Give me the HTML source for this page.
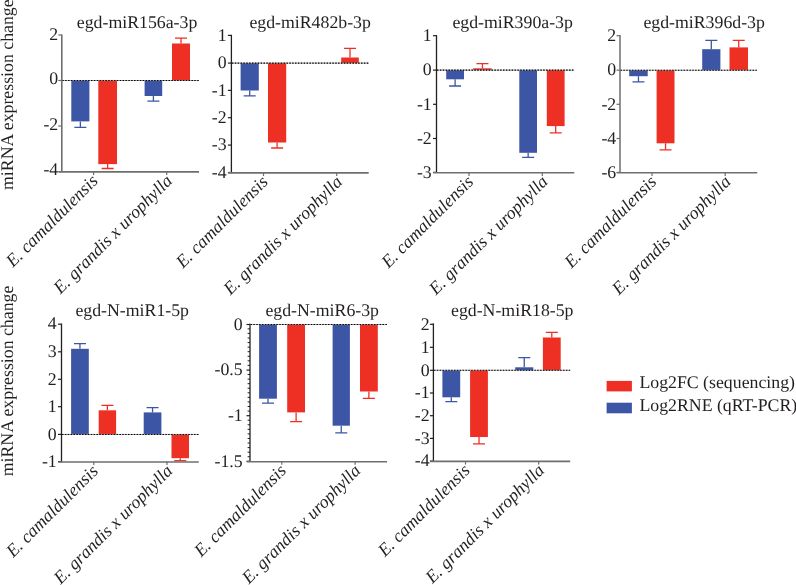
<!DOCTYPE html>
<html><head><meta charset="utf-8"><style>
html,body{margin:0;padding:0;background:#fff;}
svg{display:block;}
text{font-family:"Liberation Serif",serif;fill:#231f20;text-rendering:geometricPrecision;}
svg{will-change:transform;}
.it{font-style:italic;stroke:none;}
</style></head><body>
<svg width="796" height="585" viewBox="0 0 796 585">

<rect x="71.3" y="80.5" width="18.1" height="40.9" fill="#3d55a5"/>
<path d="M80.35 121.4V127.4M74.35 127.4H86.35" stroke="#3d55a5" stroke-width="1.3" fill="none"/>
<rect x="98.3" y="80.5" width="18.7" height="83.6" fill="#ee2f24"/>
<path d="M107.65 164.1V168.5M101.65 168.5H113.65" stroke="#ee2f24" stroke-width="1.3" fill="none"/>
<rect x="144.6" y="80.5" width="17.6" height="15.5" fill="#3d55a5"/>
<path d="M153.4 96V101.2M147.4 101.2H159.4" stroke="#3d55a5" stroke-width="1.3" fill="none"/>
<rect x="172" y="43.5" width="18" height="37" fill="#ee2f24"/>
<path d="M181 43.5V38.2M175 38.2H187" stroke="#ee2f24" stroke-width="1.3" fill="none"/>
<line x1="61.8" y1="80.5" x2="199" y2="80.5" stroke="#9a9a9a" stroke-width="0.8"/>
<line x1="62.3" y1="80.5" x2="199" y2="80.5" stroke="#000" stroke-width="1.05" stroke-dasharray="1.5 1.37"/>
<line x1="61.8" y1="34.4" x2="61.8" y2="172.1" stroke="#6d6e70" stroke-width="1.6"/>
<line x1="58.3" y1="35" x2="61.8" y2="35" stroke="#6d6e70" stroke-width="1.2"/>
<text x="58.2" y="40.2" font-size="17.8" text-anchor="end">2</text>
<line x1="58.3" y1="80.5" x2="61.8" y2="80.5" stroke="#6d6e70" stroke-width="1.2"/>
<text x="58.2" y="83.7" font-size="17.8" text-anchor="end">0</text>
<line x1="58.3" y1="126" x2="61.8" y2="126" stroke="#6d6e70" stroke-width="1.2"/>
<text x="58.2" y="129.7" font-size="17.8" text-anchor="end">-2</text>
<line x1="58.3" y1="171.6" x2="61.8" y2="171.6" stroke="#6d6e70" stroke-width="1.2"/>
<text x="58.2" y="174.6" font-size="17.8" text-anchor="end">-4</text>
<line x1="58.5" y1="171.9" x2="199" y2="171.9" stroke="#6d6e70" stroke-width="1.6"/>
<line x1="93.6" y1="171.5" x2="93.6" y2="175" stroke="#6d6e70" stroke-width="1.2"/>
<line x1="166.7" y1="171.5" x2="166.7" y2="175" stroke="#6d6e70" stroke-width="1.2"/>
<text class="it" font-size="17.8" text-anchor="end" transform="translate(98.9 181.9) rotate(-45)">E. camaldulensis</text>
<text class="it" font-size="17.8" text-anchor="end" transform="translate(173.2 181.9) rotate(-45)">E. grandis x urophylla</text>
<text x="76.8" y="27.8" font-size="17.8">egd-miR156a-3p</text>
<rect x="240.6" y="63.1" width="18.2" height="27.4" fill="#3d55a5"/>
<path d="M249.7 90.5V95.8M243.7 95.8H255.7" stroke="#3d55a5" stroke-width="1.3" fill="none"/>
<rect x="268" y="63.1" width="18.2" height="79.4" fill="#ee2f24"/>
<path d="M277.1 142.5V148M271.1 148H283.1" stroke="#ee2f24" stroke-width="1.3" fill="none"/>
<rect x="341.2" y="57.5" width="17.6" height="5.6" fill="#ee2f24"/>
<path d="M350 57.5V48.4M344 48.4H356" stroke="#ee2f24" stroke-width="1.3" fill="none"/>
<line x1="231.4" y1="63.1" x2="368.7" y2="63.1" stroke="#9a9a9a" stroke-width="0.8"/>
<line x1="231.9" y1="63.1" x2="368.7" y2="63.1" stroke="#000" stroke-width="1.05" stroke-dasharray="1.5 1.37"/>
<line x1="231.4" y1="34.8" x2="231.4" y2="173.1" stroke="#231f20" stroke-width="1.3"/>
<line x1="227.9" y1="35.4" x2="231.4" y2="35.4" stroke="#231f20" stroke-width="1.2"/>
<text x="226.6" y="40.6" font-size="17.8" text-anchor="end">1</text>
<line x1="227.9" y1="63.1" x2="231.4" y2="63.1" stroke="#231f20" stroke-width="1.2"/>
<text x="226.6" y="68.3" font-size="17.8" text-anchor="end">0</text>
<line x1="227.9" y1="90.4" x2="231.4" y2="90.4" stroke="#231f20" stroke-width="1.2"/>
<text x="226.6" y="95.6" font-size="17.8" text-anchor="end">-1</text>
<line x1="227.9" y1="117.7" x2="231.4" y2="117.7" stroke="#231f20" stroke-width="1.2"/>
<text x="226.6" y="122.9" font-size="17.8" text-anchor="end">-2</text>
<line x1="227.9" y1="145.1" x2="231.4" y2="145.1" stroke="#231f20" stroke-width="1.2"/>
<text x="226.6" y="150.3" font-size="17.8" text-anchor="end">-3</text>
<line x1="227.9" y1="172.5" x2="231.4" y2="172.5" stroke="#231f20" stroke-width="1.2"/>
<text x="226.6" y="177.7" font-size="17.8" text-anchor="end">-4</text>
<line x1="228.1" y1="172.9" x2="368.7" y2="172.9" stroke="#6d6e70" stroke-width="1.6"/>
<line x1="263.5" y1="172.5" x2="263.5" y2="176" stroke="#6d6e70" stroke-width="1.2"/>
<line x1="336.7" y1="172.5" x2="336.7" y2="176" stroke="#6d6e70" stroke-width="1.2"/>
<text class="it" font-size="17.8" text-anchor="end" transform="translate(268.8 182.9) rotate(-45)">E. camaldulensis</text>
<text class="it" font-size="17.8" text-anchor="end" transform="translate(343.2 182.9) rotate(-45)">E. grandis x urophylla</text>
<text x="249.4" y="27.9" font-size="17.8">egd-miR482b-3p</text>
<rect x="446.2" y="70.1" width="17.8" height="9.2" fill="#3d55a5"/>
<path d="M455.1 79.3V86M449.1 86H461.1" stroke="#3d55a5" stroke-width="1.3" fill="none"/>
<rect x="473.2" y="68.3" width="18.5" height="1.8" fill="#ee2f24"/>
<path d="M482.45 68.3V63.7M476.45 63.7H488.45" stroke="#ee2f24" stroke-width="1.3" fill="none"/>
<rect x="519.3" y="70.1" width="17.7" height="82.7" fill="#3d55a5"/>
<path d="M528.15 152.8V157.4M522.15 157.4H534.15" stroke="#3d55a5" stroke-width="1.3" fill="none"/>
<rect x="546.8" y="70.1" width="17.8" height="56" fill="#ee2f24"/>
<path d="M555.7 126.1V132.8M549.7 132.8H561.7" stroke="#ee2f24" stroke-width="1.3" fill="none"/>
<line x1="436.5" y1="70.1" x2="574.3" y2="70.1" stroke="#9a9a9a" stroke-width="0.8"/>
<line x1="437" y1="70.1" x2="574.3" y2="70.1" stroke="#000" stroke-width="1.05" stroke-dasharray="1.5 1.37"/>
<line x1="436.5" y1="35.1" x2="436.5" y2="173" stroke="#231f20" stroke-width="1.3"/>
<line x1="433" y1="35.7" x2="436.5" y2="35.7" stroke="#231f20" stroke-width="1.2"/>
<text x="431.7" y="40.9" font-size="17.8" text-anchor="end">1</text>
<line x1="433" y1="70.1" x2="436.5" y2="70.1" stroke="#231f20" stroke-width="1.2"/>
<text x="431.7" y="75.3" font-size="17.8" text-anchor="end">0</text>
<line x1="433" y1="104.3" x2="436.5" y2="104.3" stroke="#231f20" stroke-width="1.2"/>
<text x="431.7" y="109.5" font-size="17.8" text-anchor="end">-1</text>
<line x1="433" y1="138.5" x2="436.5" y2="138.5" stroke="#231f20" stroke-width="1.2"/>
<text x="431.7" y="143.7" font-size="17.8" text-anchor="end">-2</text>
<line x1="433" y1="172.4" x2="436.5" y2="172.4" stroke="#231f20" stroke-width="1.2"/>
<text x="431.7" y="177.6" font-size="17.8" text-anchor="end">-3</text>
<line x1="433.2" y1="172.8" x2="574.3" y2="172.8" stroke="#6d6e70" stroke-width="1.6"/>
<line x1="469" y1="172.4" x2="469" y2="175.9" stroke="#6d6e70" stroke-width="1.2"/>
<line x1="542.3" y1="172.4" x2="542.3" y2="175.9" stroke="#6d6e70" stroke-width="1.2"/>
<text class="it" font-size="17.8" text-anchor="end" transform="translate(474.3 182.8) rotate(-45)">E. camaldulensis</text>
<text class="it" font-size="17.8" text-anchor="end" transform="translate(548.8 182.8) rotate(-45)">E. grandis x urophylla</text>
<text x="452.4" y="27.9" font-size="17.8">egd-miR390a-3p</text>
<rect x="629.2" y="70.2" width="18.5" height="6" fill="#3d55a5"/>
<path d="M638.45 76.2V81.9M632.45 81.9H644.45" stroke="#3d55a5" stroke-width="1.3" fill="none"/>
<rect x="656.6" y="70.2" width="17.9" height="73.1" fill="#ee2f24"/>
<path d="M665.55 143.3V149.9M659.55 149.9H671.55" stroke="#ee2f24" stroke-width="1.3" fill="none"/>
<rect x="702.2" y="49.2" width="18.2" height="21" fill="#3d55a5"/>
<path d="M711.3 49.2V40.4M705.3 40.4H717.3" stroke="#3d55a5" stroke-width="1.3" fill="none"/>
<rect x="729.5" y="47.4" width="18.5" height="22.8" fill="#ee2f24"/>
<path d="M738.75 47.4V40.4M732.75 40.4H744.75" stroke="#ee2f24" stroke-width="1.3" fill="none"/>
<line x1="620" y1="70.2" x2="757.2" y2="70.2" stroke="#9a9a9a" stroke-width="0.8"/>
<line x1="620.5" y1="70.2" x2="757.2" y2="70.2" stroke="#000" stroke-width="1.05" stroke-dasharray="1.5 1.37"/>
<line x1="620" y1="35.1" x2="620" y2="173" stroke="#6d6e70" stroke-width="1.5"/>
<line x1="616.5" y1="35.7" x2="620" y2="35.7" stroke="#6d6e70" stroke-width="1.2"/>
<text x="616.2" y="40.9" font-size="17.8" text-anchor="end">2</text>
<line x1="616.5" y1="70.2" x2="620" y2="70.2" stroke="#6d6e70" stroke-width="1.2"/>
<text x="616.2" y="75.4" font-size="17.8" text-anchor="end">0</text>
<line x1="616.5" y1="104.3" x2="620" y2="104.3" stroke="#6d6e70" stroke-width="1.2"/>
<text x="616.2" y="109.5" font-size="17.8" text-anchor="end">-2</text>
<line x1="616.5" y1="138.5" x2="620" y2="138.5" stroke="#6d6e70" stroke-width="1.2"/>
<text x="616.2" y="143.7" font-size="17.8" text-anchor="end">-4</text>
<line x1="616.5" y1="172.4" x2="620" y2="172.4" stroke="#6d6e70" stroke-width="1.2"/>
<text x="616.2" y="177.6" font-size="17.8" text-anchor="end">-6</text>
<line x1="616.7" y1="172.8" x2="757.2" y2="172.8" stroke="#6d6e70" stroke-width="1.6"/>
<line x1="652" y1="172.4" x2="652" y2="175.9" stroke="#6d6e70" stroke-width="1.2"/>
<line x1="725.2" y1="172.4" x2="725.2" y2="175.9" stroke="#6d6e70" stroke-width="1.2"/>
<text class="it" font-size="17.8" text-anchor="end" transform="translate(657.3 182.8) rotate(-45)">E. camaldulensis</text>
<text class="it" font-size="17.8" text-anchor="end" transform="translate(731.7 182.8) rotate(-45)">E. grandis x urophylla</text>
<text x="643.4" y="27.9" font-size="17.8">egd-miR396d-3p</text>
<rect x="71.1" y="348.8" width="17.7" height="85.6" fill="#3d55a5"/>
<path d="M79.95 348.8V343.6M73.95 343.6H85.95" stroke="#3d55a5" stroke-width="1.3" fill="none"/>
<rect x="98.7" y="410.3" width="17.4" height="24.1" fill="#ee2f24"/>
<path d="M107.4 410.3V405.4M101.4 405.4H113.4" stroke="#ee2f24" stroke-width="1.3" fill="none"/>
<rect x="143.7" y="412.4" width="17.7" height="22" fill="#3d55a5"/>
<path d="M152.55 412.4V407.7M146.55 407.7H158.55" stroke="#3d55a5" stroke-width="1.3" fill="none"/>
<rect x="171.5" y="434.4" width="17.5" height="23.8" fill="#ee2f24"/>
<path d="M180.25 458.2V460.6M174.25 460.6H186.25" stroke="#ee2f24" stroke-width="1.3" fill="none"/>
<line x1="61.5" y1="434.4" x2="198.8" y2="434.4" stroke="#9a9a9a" stroke-width="0.8"/>
<line x1="62" y1="434.4" x2="198.8" y2="434.4" stroke="#000" stroke-width="1.05" stroke-dasharray="1.5 1.37"/>
<line x1="61.5" y1="323.6" x2="61.5" y2="462.2" stroke="#231f20" stroke-width="1.3"/>
<line x1="58" y1="324.2" x2="61.5" y2="324.2" stroke="#231f20" stroke-width="1.2"/>
<text x="56.7" y="329.4" font-size="17.8" text-anchor="end">4</text>
<line x1="58" y1="351.8" x2="61.5" y2="351.8" stroke="#231f20" stroke-width="1.2"/>
<text x="56.7" y="357" font-size="17.8" text-anchor="end">3</text>
<line x1="58" y1="379.3" x2="61.5" y2="379.3" stroke="#231f20" stroke-width="1.2"/>
<text x="56.7" y="384.5" font-size="17.8" text-anchor="end">2</text>
<line x1="58" y1="406.7" x2="61.5" y2="406.7" stroke="#231f20" stroke-width="1.2"/>
<text x="56.7" y="411.9" font-size="17.8" text-anchor="end">1</text>
<line x1="58" y1="434.4" x2="61.5" y2="434.4" stroke="#231f20" stroke-width="1.2"/>
<text x="56.7" y="439.6" font-size="17.8" text-anchor="end">0</text>
<line x1="58" y1="461.6" x2="61.5" y2="461.6" stroke="#231f20" stroke-width="1.2"/>
<text x="56.7" y="466.8" font-size="17.8" text-anchor="end">-1</text>
<line x1="58.2" y1="462" x2="198.8" y2="462" stroke="#6d6e70" stroke-width="1.6"/>
<line x1="93.8" y1="461.6" x2="93.8" y2="465.1" stroke="#6d6e70" stroke-width="1.2"/>
<line x1="167" y1="461.6" x2="167" y2="465.1" stroke="#6d6e70" stroke-width="1.2"/>
<text class="it" font-size="17.8" text-anchor="end" transform="translate(99.1 472) rotate(-45)">E. camaldulensis</text>
<text class="it" font-size="17.8" text-anchor="end" transform="translate(173.5 472) rotate(-45)">E. grandis x urophylla</text>
<text x="75.4" y="316.1" font-size="17.8">egd-N-miR1-5p</text>
<rect x="259.1" y="324.5" width="17.8" height="74.2" fill="#3d55a5"/>
<path d="M268 398.7V403.2M262 403.2H274" stroke="#3d55a5" stroke-width="1.3" fill="none"/>
<rect x="287.2" y="324.5" width="17.8" height="87.9" fill="#ee2f24"/>
<path d="M296.1 412.4V421.6M290.1 421.6H302.1" stroke="#ee2f24" stroke-width="1.3" fill="none"/>
<rect x="332.6" y="324.5" width="17.3" height="101.2" fill="#3d55a5"/>
<path d="M341.25 425.7V432.9M335.25 432.9H347.25" stroke="#3d55a5" stroke-width="1.3" fill="none"/>
<rect x="360" y="324.5" width="17.8" height="67" fill="#ee2f24"/>
<path d="M368.9 391.5V398.4M362.9 398.4H374.9" stroke="#ee2f24" stroke-width="1.3" fill="none"/>
<line x1="250" y1="324.5" x2="387" y2="324.5" stroke="#9a9a9a" stroke-width="0.8"/>
<line x1="250.5" y1="324.5" x2="387" y2="324.5" stroke="#000" stroke-width="1.05" stroke-dasharray="1.5 1.37"/>
<line x1="250" y1="323.7" x2="250" y2="461.9" stroke="#231f20" stroke-width="1.3"/>
<line x1="246.5" y1="324.5" x2="250" y2="324.5" stroke="#231f20" stroke-width="1.2"/>
<text x="242.7" y="329.7" font-size="17.8" text-anchor="end">0</text>
<line x1="246.5" y1="370.1" x2="250" y2="370.1" stroke="#231f20" stroke-width="1.2"/>
<text x="242.7" y="375.3" font-size="17.8" text-anchor="end">-0.5</text>
<line x1="246.5" y1="415.7" x2="250" y2="415.7" stroke="#231f20" stroke-width="1.2"/>
<text x="242.7" y="420.9" font-size="17.8" text-anchor="end">-1</text>
<line x1="246.5" y1="461.3" x2="250" y2="461.3" stroke="#231f20" stroke-width="1.2"/>
<text x="242.7" y="466.5" font-size="17.8" text-anchor="end">-1.5</text>
<line x1="247.6" y1="328.87" x2="250" y2="328.87" stroke="#231f20" stroke-width="1"/>
<line x1="247.6" y1="333.43" x2="250" y2="333.43" stroke="#231f20" stroke-width="1"/>
<line x1="247.6" y1="338" x2="250" y2="338" stroke="#231f20" stroke-width="1"/>
<line x1="247.6" y1="342.57" x2="250" y2="342.57" stroke="#231f20" stroke-width="1"/>
<line x1="247.6" y1="347.13" x2="250" y2="347.13" stroke="#231f20" stroke-width="1"/>
<line x1="247.6" y1="351.7" x2="250" y2="351.7" stroke="#231f20" stroke-width="1"/>
<line x1="247.6" y1="356.27" x2="250" y2="356.27" stroke="#231f20" stroke-width="1"/>
<line x1="247.6" y1="360.83" x2="250" y2="360.83" stroke="#231f20" stroke-width="1"/>
<line x1="247.6" y1="365.4" x2="250" y2="365.4" stroke="#231f20" stroke-width="1"/>
<line x1="247.6" y1="374.53" x2="250" y2="374.53" stroke="#231f20" stroke-width="1"/>
<line x1="247.6" y1="379.1" x2="250" y2="379.1" stroke="#231f20" stroke-width="1"/>
<line x1="247.6" y1="383.67" x2="250" y2="383.67" stroke="#231f20" stroke-width="1"/>
<line x1="247.6" y1="388.23" x2="250" y2="388.23" stroke="#231f20" stroke-width="1"/>
<line x1="247.6" y1="392.8" x2="250" y2="392.8" stroke="#231f20" stroke-width="1"/>
<line x1="247.6" y1="397.37" x2="250" y2="397.37" stroke="#231f20" stroke-width="1"/>
<line x1="247.6" y1="401.93" x2="250" y2="401.93" stroke="#231f20" stroke-width="1"/>
<line x1="247.6" y1="406.5" x2="250" y2="406.5" stroke="#231f20" stroke-width="1"/>
<line x1="247.6" y1="411.07" x2="250" y2="411.07" stroke="#231f20" stroke-width="1"/>
<line x1="247.6" y1="420.2" x2="250" y2="420.2" stroke="#231f20" stroke-width="1"/>
<line x1="247.6" y1="424.77" x2="250" y2="424.77" stroke="#231f20" stroke-width="1"/>
<line x1="247.6" y1="429.33" x2="250" y2="429.33" stroke="#231f20" stroke-width="1"/>
<line x1="247.6" y1="433.9" x2="250" y2="433.9" stroke="#231f20" stroke-width="1"/>
<line x1="247.6" y1="438.47" x2="250" y2="438.47" stroke="#231f20" stroke-width="1"/>
<line x1="247.6" y1="443.03" x2="250" y2="443.03" stroke="#231f20" stroke-width="1"/>
<line x1="247.6" y1="447.6" x2="250" y2="447.6" stroke="#231f20" stroke-width="1"/>
<line x1="247.6" y1="452.17" x2="250" y2="452.17" stroke="#231f20" stroke-width="1"/>
<line x1="247.6" y1="456.73" x2="250" y2="456.73" stroke="#231f20" stroke-width="1"/>
<line x1="246.7" y1="461.7" x2="387" y2="461.7" stroke="#6d6e70" stroke-width="1.6"/>
<line x1="281.8" y1="461.3" x2="281.8" y2="464.8" stroke="#6d6e70" stroke-width="1.2"/>
<line x1="355.1" y1="461.3" x2="355.1" y2="464.8" stroke="#6d6e70" stroke-width="1.2"/>
<text class="it" font-size="17.8" text-anchor="end" transform="translate(287.1 471.7) rotate(-45)">E. camaldulensis</text>
<text class="it" font-size="17.8" text-anchor="end" transform="translate(361.6 471.7) rotate(-45)">E. grandis x urophylla</text>
<text x="265.4" y="316.1" font-size="17.8">egd-N-miR6-3p</text>
<rect x="442.4" y="370.3" width="17.8" height="27" fill="#3d55a5"/>
<path d="M451.3 397.3V401.7M445.3 401.7H457.3" stroke="#3d55a5" stroke-width="1.3" fill="none"/>
<rect x="470.1" y="370.3" width="17.8" height="66.7" fill="#ee2f24"/>
<path d="M479 437V443.8M473 443.8H485" stroke="#ee2f24" stroke-width="1.3" fill="none"/>
<rect x="515.2" y="367.3" width="18.1" height="3" fill="#3d55a5"/>
<path d="M524.25 367.3V357.7M518.25 357.7H530.25" stroke="#3d55a5" stroke-width="1.3" fill="none"/>
<rect x="542.9" y="337.5" width="17.8" height="32.8" fill="#ee2f24"/>
<path d="M551.8 337.5V332.4M545.8 332.4H557.8" stroke="#ee2f24" stroke-width="1.3" fill="none"/>
<line x1="433.4" y1="370.3" x2="570.2" y2="370.3" stroke="#9a9a9a" stroke-width="0.8"/>
<line x1="433.9" y1="370.3" x2="570.2" y2="370.3" stroke="#000" stroke-width="1.05" stroke-dasharray="1.5 1.37"/>
<line x1="433.4" y1="323.4" x2="433.4" y2="461.6" stroke="#231f20" stroke-width="1.3"/>
<line x1="429.9" y1="324.3" x2="433.4" y2="324.3" stroke="#231f20" stroke-width="1.2"/>
<text x="429.6" y="329.5" font-size="17.8" text-anchor="end">2</text>
<line x1="429.9" y1="347.3" x2="433.4" y2="347.3" stroke="#231f20" stroke-width="1.2"/>
<text x="429.6" y="352.5" font-size="17.8" text-anchor="end">1</text>
<line x1="429.9" y1="370.3" x2="433.4" y2="370.3" stroke="#231f20" stroke-width="1.2"/>
<text x="429.6" y="375.5" font-size="17.8" text-anchor="end">0</text>
<line x1="429.9" y1="393" x2="433.4" y2="393" stroke="#231f20" stroke-width="1.2"/>
<text x="429.6" y="398.2" font-size="17.8" text-anchor="end">-1</text>
<line x1="429.9" y1="415.7" x2="433.4" y2="415.7" stroke="#231f20" stroke-width="1.2"/>
<text x="429.6" y="420.9" font-size="17.8" text-anchor="end">-2</text>
<line x1="429.9" y1="438.4" x2="433.4" y2="438.4" stroke="#231f20" stroke-width="1.2"/>
<text x="429.6" y="443.6" font-size="17.8" text-anchor="end">-3</text>
<line x1="429.9" y1="461.1" x2="433.4" y2="461.1" stroke="#231f20" stroke-width="1.2"/>
<text x="429.6" y="466.3" font-size="17.8" text-anchor="end">-4</text>
<line x1="430.1" y1="461.4" x2="570.2" y2="461.4" stroke="#6d6e70" stroke-width="1.6"/>
<line x1="465.5" y1="461" x2="465.5" y2="464.5" stroke="#6d6e70" stroke-width="1.2"/>
<line x1="538.7" y1="461" x2="538.7" y2="464.5" stroke="#6d6e70" stroke-width="1.2"/>
<text class="it" font-size="17.8" text-anchor="end" transform="translate(470.8 471.4) rotate(-45)">E. camaldulensis</text>
<text class="it" font-size="17.8" text-anchor="end" transform="translate(545.2 471.4) rotate(-45)">E. grandis x urophylla</text>
<text x="451" y="316.3" font-size="17.8">egd-N-miR18-5p</text>
<text font-size="17.8" transform="translate(12.5 190) rotate(-90)">miRNA expression change</text>
<text font-size="17.8" transform="translate(12.5 476.3) rotate(-90)">miRNA expression change</text>
<rect x="606.6" y="380.9" width="25.3" height="10.5" fill="#ee2f24"/>
<rect x="606.6" y="402.7" width="25.3" height="10.6" fill="#3d55a5"/>
<text x="639.4" y="387.8" font-size="17.8">Log2FC (sequencing)</text>
<text x="639.4" y="411" font-size="17.8">Log2RNE (qRT-PCR)</text>
</svg>
</body></html>
